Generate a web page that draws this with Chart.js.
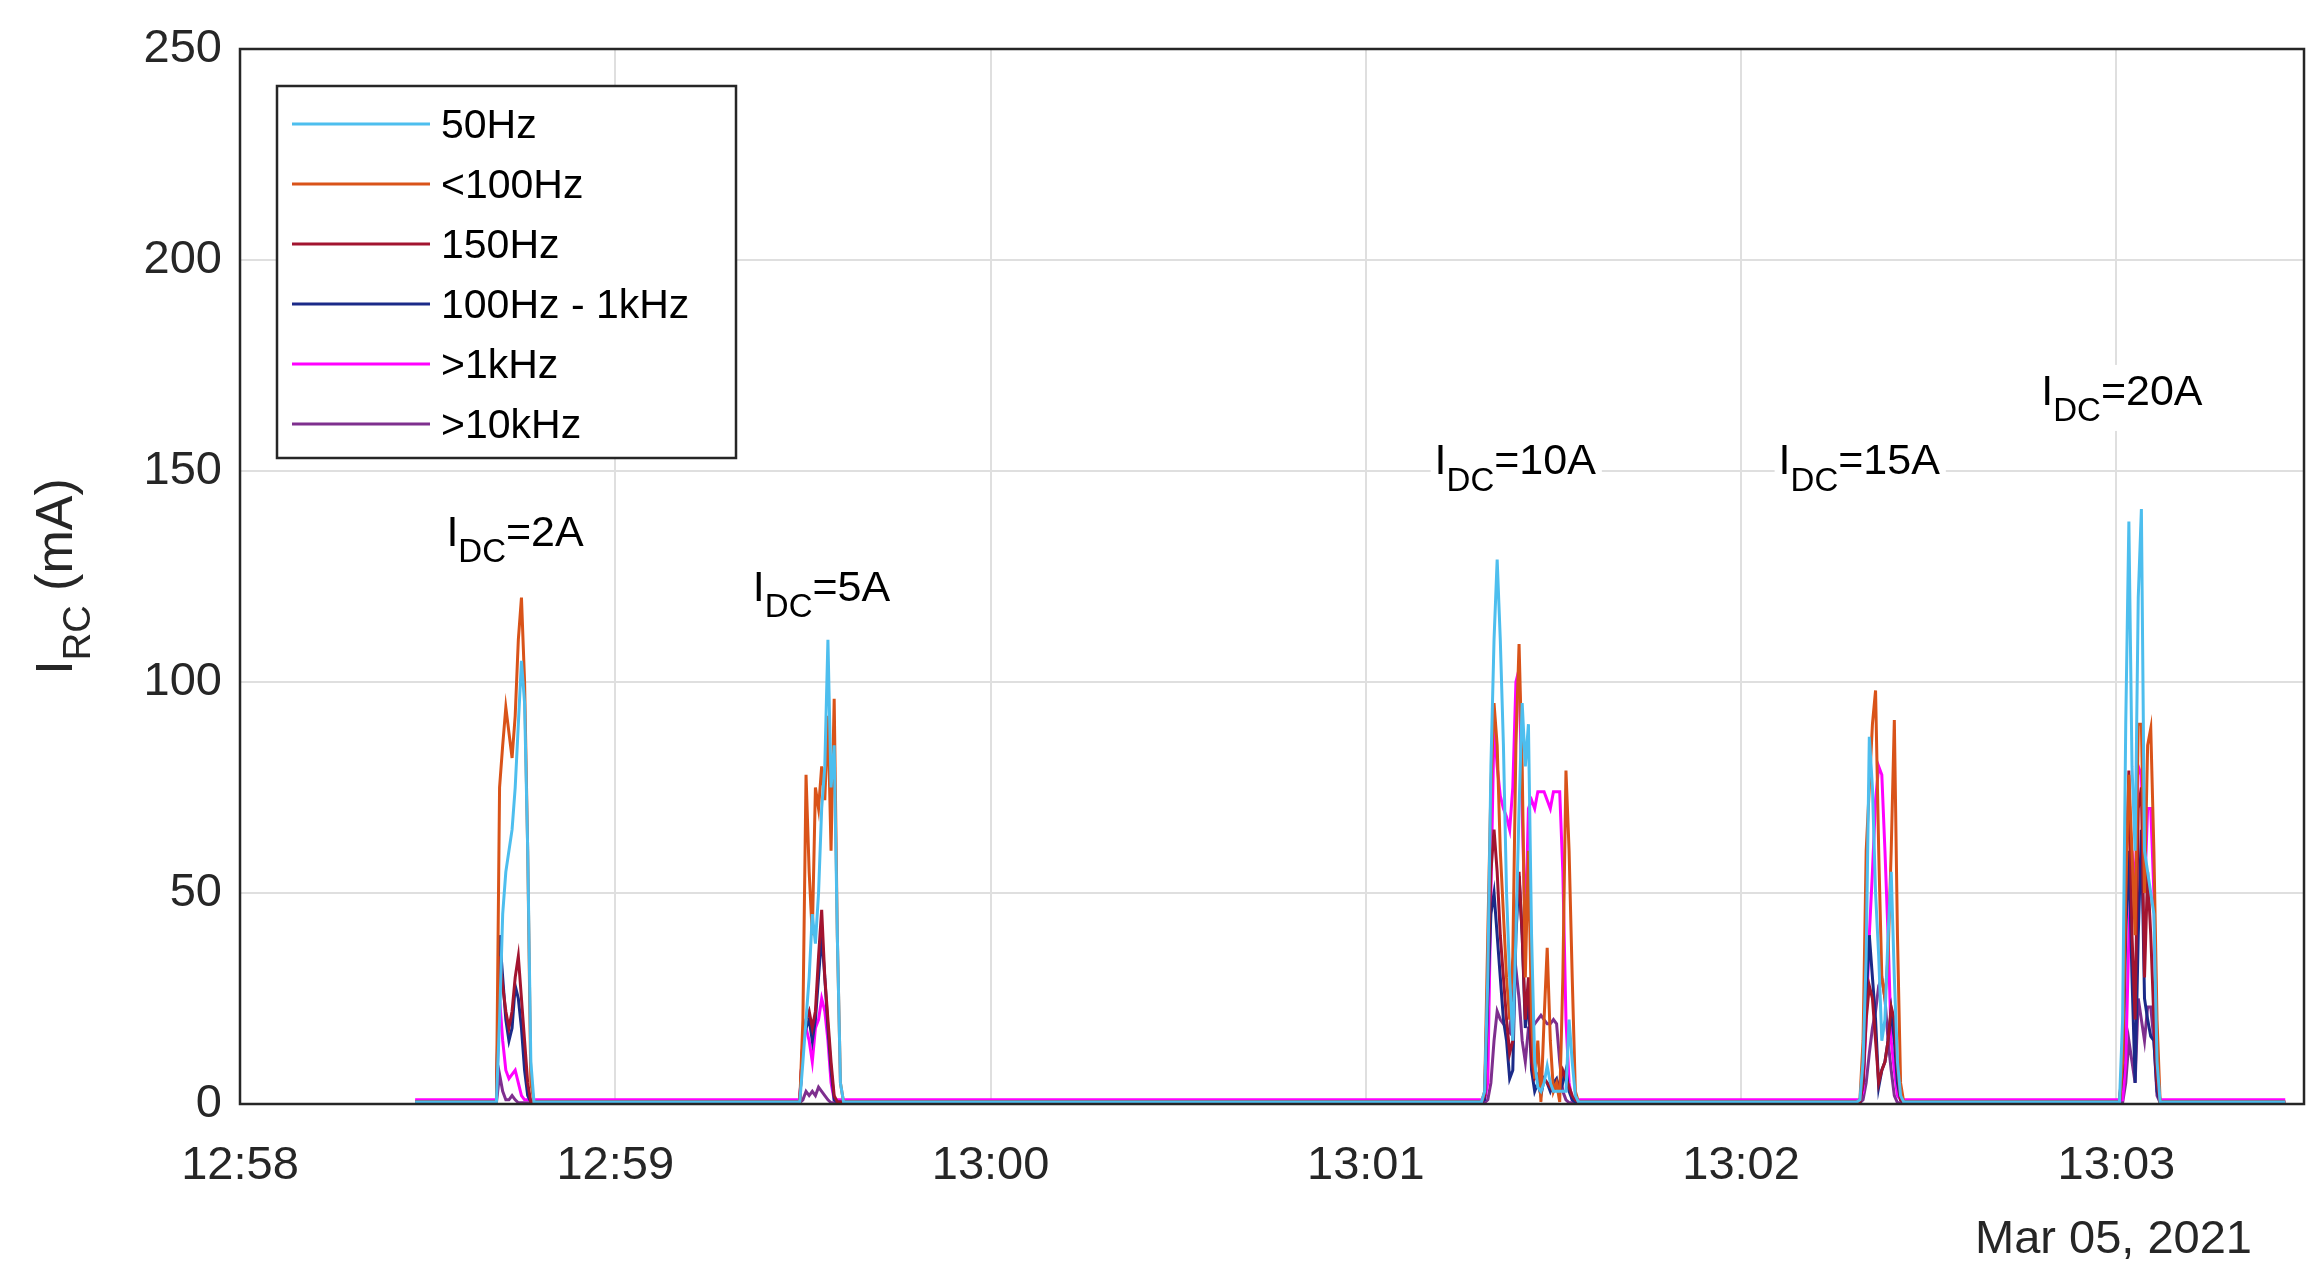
<!DOCTYPE html>
<html>
<head>
<meta charset="utf-8">
<script src="https://cdn.jsdelivr.net/npm/chart.js@4"></script>
<style>
  body { margin: 0; background: #fff; }
  canvas { display: block; }
</style>
</head>
<body>
<canvas id="chart" width="2323" height="1286"></canvas>
<script>
// seconds after 12:58:00
const tickValues = [0, 60, 120, 180, 240, 300];
const tickLabels = ['12:58', '12:59', '13:00', '13:01', '13:02', '13:03'];
const yTicks = [0, 50, 100, 150, 200, 250];
const seriesNames = ['50Hz', '<100Hz', '150Hz', '100Hz - 1kHz', '>1kHz', '>10kHz'];
const seriesColors = ['#4DBEEE', '#D95319', '#A2142F', '#1B2A88', '#FF00FF', '#7E2F8E'];
const baseline = [0.5, 0.5, 0.5, 0.5, 1, 0.3];
const recordStart = 28, recordEnd = 327, sampleStep = 0.5;

// each burst: start time and values per series (0.5 s samples)
const burstStarts = [41, 29.5 + 60, 199, 259, 300.5];
const burst2A = [
  [0, 20, 45, 55, 60, 65, 75, 90, 105, 95, 60, 10, 0, 0],
  [0, 75, 85, 94, 88, 82, 92, 110, 120, 100, 60, 5, 0, 0],
  [0, 35, 28, 22, 18, 22, 30, 35, 25, 15, 5, 0, 0, 0],
  [0, 40, 30, 20, 15, 18, 28, 25, 18, 8, 2, 0, 0, 0],
  [1, 25, 15, 8, 6, 7, 8, 5, 2, 1, 1, 1, 1, 1],
  [0, 7, 3, 1, 1, 2, 1, 0, 0, 0, 0, 0, 0, 0]
];
const burst5A = [
  [0, 10, 20, 30, 45, 38, 50, 70, 80, 110, 75, 85, 40, 5, 0, 0],
  [0, 20, 78, 55, 40, 75, 70, 80, 72, 92, 60, 96, 40, 5, 0, 0],
  [0, 15, 20, 22, 18, 22, 35, 46, 30, 20, 10, 2, 0, 0, 0, 0],
  [0, 15, 18, 20, 15, 20, 30, 40, 30, 18, 8, 1, 0, 0, 0, 0],
  [1, 15, 18, 15, 10, 18, 20, 25, 22, 15, 5, 1, 1, 1, 1, 1],
  [0, 1, 3, 2, 3, 2, 4, 3, 2, 1, 0, 0, 0, 0, 0, 0]
];
const burst10A = [
  [3, 30, 80, 110, 129, 110, 85, 50, 30, 15, 40, 70, 95, 80, 90, 40, 10, 4, 3, 5, 9, 5, 3, 3, 3, 3, 3, 20, 10, 2, 0],
  [3, 40, 75, 95, 85, 60, 45, 30, 20, 35, 85, 109, 80, 30, 60, 20, 6, 15, 0, 20, 37, 15, 3, 5, 0, 30, 79, 60, 30, 3, 0],
  [2, 30, 55, 65, 55, 40, 30, 20, 12, 15, 45, 55, 40, 20, 30, 10, 6, 7, 5, 6, 5, 4, 3, 4, 5, 8, 6, 4, 2, 1, 0],
  [1, 25, 45, 50, 40, 30, 20, 15, 6, 8, 40, 54, 40, 18, 25, 8, 3, 5, 2, 6, 5, 3, 5, 6, 3, 5, 8, 3, 1, 0, 0],
  [1, 5, 50, 90, 80, 73, 70, 68, 65, 75, 100, 103, 70, 40, 70, 72, 70, 74, 74, 74, 72, 70, 74, 74, 74, 55, 20, 5, 1, 1, 1],
  [0, 1, 5, 15, 22, 20, 19, 18, 17, 25, 32, 25, 15, 10, 18, 18, 19, 20, 21, 20, 19, 19, 20, 19, 10, 3, 1, 0, 0, 1, 0]
];
const burst15A = [
  [1, 10, 35, 87, 75, 50, 35, 15, 20, 40, 55, 30, 10, 2, 0],
  [1, 15, 60, 75, 90, 98, 60, 30, 25, 35, 60, 91, 40, 5, 0],
  [0, 5, 20, 28, 25, 15, 5, 8, 10, 15, 23, 20, 8, 1, 0],
  [0, 5, 25, 40, 30, 20, 4, 8, 10, 15, 22, 15, 5, 1, 0],
  [1, 3, 20, 40, 55, 72, 80, 78, 60, 40, 15, 8, 2, 1, 1],
  [0, 1, 5, 12, 18, 22, 28, 30, 25, 15, 8, 2, 0, 0, 0]
];
const burst20A = [
  [0, 20, 90, 138, 80, 60, 120, 141, 60, 55, 50, 45, 10, 0],
  [0, 10, 50, 78, 60, 40, 90, 90, 50, 85, 89, 60, 20, 0],
  [0, 10, 50, 79, 40, 20, 70, 75, 30, 55, 40, 20, 5, 0],
  [0, 8, 40, 60, 30, 5, 40, 65, 25, 20, 16, 15, 3, 0],
  [1, 1, 10, 40, 60, 50, 80, 78, 50, 70, 70, 50, 5, 1],
  [0, 0, 5, 15, 10, 5, 25, 20, 15, 23, 23, 15, 2, 0]
];
const bursts = [burst2A, burst5A, burst10A, burst15A, burst20A];

const annTimes = [33, 82, 191, 246, 288];
const annValues = [135, 122, 152, 152, 168.5];
const annLabels = ['2A', '5A', '10A', '15A', '20A'];

function buildSeries(k) {
  const pts = [{ x: recordStart, y: baseline[k] }];
  bursts.forEach((b, j) => {
    const vals = b[k];
    pts.push({ x: burstStarts[j] - sampleStep, y: baseline[k] });
    vals.forEach((v, i) => pts.push({ x: burstStarts[j] + i * sampleStep, y: Math.max(v, baseline[k]) }));
    pts.push({ x: burstStarts[j] + vals.length * sampleStep, y: baseline[k] });
  });
  pts.push({ x: recordEnd, y: baseline[k] });
  return pts;
}

const FONT = 'Helvetica, "Liberation Sans", Arial, sans-serif';

const decorPlugin = {
  id: 'decor',
  afterDatasetsDraw(chart) {
    const { ctx, chartArea: a, scales: { x, y } } = chart;
    ctx.save();
    // frame
    ctx.strokeStyle = '#262626';
    ctx.lineWidth = 2.5;
    ctx.strokeRect(a.left, a.top, a.right - a.left, a.bottom - a.top);

    // annotations
    annLabels.forEach((lab, i) => {
      const px = x.getPixelForValue(annTimes[i]);
      const py = y.getPixelForValue(annValues[i]);
      ctx.font = '43px ' + FONT;
      const wI = ctx.measureText('I').width;
      ctx.font = '33px ' + FONT;
      const wDC = ctx.measureText('DC').width;
      ctx.font = '43px ' + FONT;
      const wR = ctx.measureText('=' + lab).width;
      ctx.fillStyle = '#fff';
      ctx.fillRect(px - 4, py - 28, wI + wDC + wR + 10, 66);
      ctx.fillStyle = '#000';
      ctx.textBaseline = 'middle';
      ctx.textAlign = 'left';
      ctx.fillText('I', px, py);
      ctx.font = '33px ' + FONT;
      ctx.fillText('DC', px + wI, py + 19);
      ctx.font = '43px ' + FONT;
      ctx.fillText('=' + lab, px + wI + wDC, py);
    });

    // legend
    const lx = 277, ly = 86, lw = 459, lh = 372;
    ctx.fillStyle = '#fff';
    ctx.fillRect(lx, ly, lw, lh);
    ctx.strokeStyle = '#262626';
    ctx.lineWidth = 2.5;
    ctx.strokeRect(lx, ly, lw, lh);
    ctx.font = '41px ' + FONT;
    ctx.textBaseline = 'middle';
    seriesNames.forEach((n, i) => {
      const ry = 124 + i * 60;
      ctx.strokeStyle = seriesColors[i];
      ctx.lineWidth = 3;
      ctx.beginPath();
      ctx.moveTo(292, ry);
      ctx.lineTo(430, ry);
      ctx.stroke();
      ctx.fillStyle = '#000';
      ctx.fillText(n, 441, ry + 3);
    });

    // y title
    ctx.translate(58, (a.top + a.bottom) / 2);
    ctx.rotate(-Math.PI / 2);
    ctx.fillStyle = '#262626';
    ctx.textBaseline = 'middle';
    ctx.font = '52px ' + FONT;
    const wI = ctx.measureText('I').width;
    ctx.font = '38px ' + FONT;
    const wRC = ctx.measureText('RC').width;
    ctx.font = '52px ' + FONT;
    const wRest = ctx.measureText(' (mA)').width;
    let sx = -(wI + wRC + wRest) / 2;
    ctx.fillText('I', sx, 0);
    ctx.font = '38px ' + FONT;
    ctx.fillText('RC', sx + wI, 22);
    ctx.font = '52px ' + FONT;
    ctx.fillText(' (mA)', sx + wI + wRC, 0);
    ctx.restore();

    // date label
    ctx.save();
    ctx.font = '47px ' + FONT;
    ctx.fillStyle = '#262626';
    ctx.textAlign = 'right';
    ctx.textBaseline = 'middle';
    ctx.fillText('Mar 05, 2021', 2252, 1240);
    ctx.restore();
  }
};

new Chart(document.getElementById('chart'), {
  type: 'line',
  data: {
    datasets: seriesNames.map((n, k) => ({
      label: n,
      data: buildSeries(k),
      borderColor: seriesColors[k],
      borderWidth: 3,
      pointRadius: 0,
      tension: 0,
      fill: false
    }))
  },
  options: {
    responsive: false,
    animation: false,
    devicePixelRatio: 1,
    layout: { padding: { top: 49, right: 19, left: 0, bottom: 0 } },
    plugins: { legend: { display: false }, tooltip: { enabled: false } },
    scales: {
      x: {
        type: 'linear',
        min: 0,
        max: 330,
        afterFit: s => { s.height = 182; },
        afterBuildTicks: s => { s.ticks = tickValues.map(v => ({ value: v })); },
        grid: { color: '#dfdfdf', lineWidth: 2, drawTicks: false },
        border: { display: false },
        ticks: {
          padding: 34,
          color: '#262626',
          font: { size: 47, family: FONT },
          maxRotation: 0,
          callback: v => tickLabels[tickValues.indexOf(v)]
        }
      },
      y: {
        min: 0,
        max: 250,
        afterFit: s => { s.width = 240; },
        afterBuildTicks: s => { s.ticks = yTicks.map(v => ({ value: v })); },
        grid: { color: '#dfdfdf', lineWidth: 2, drawTicks: false },
        border: { display: false },
        ticks: {
          padding: 18,
          color: '#262626',
          font: { size: 47, family: FONT }
        }
      }
    }
  },
  plugins: [decorPlugin]
});
</script>
</body>
</html>
